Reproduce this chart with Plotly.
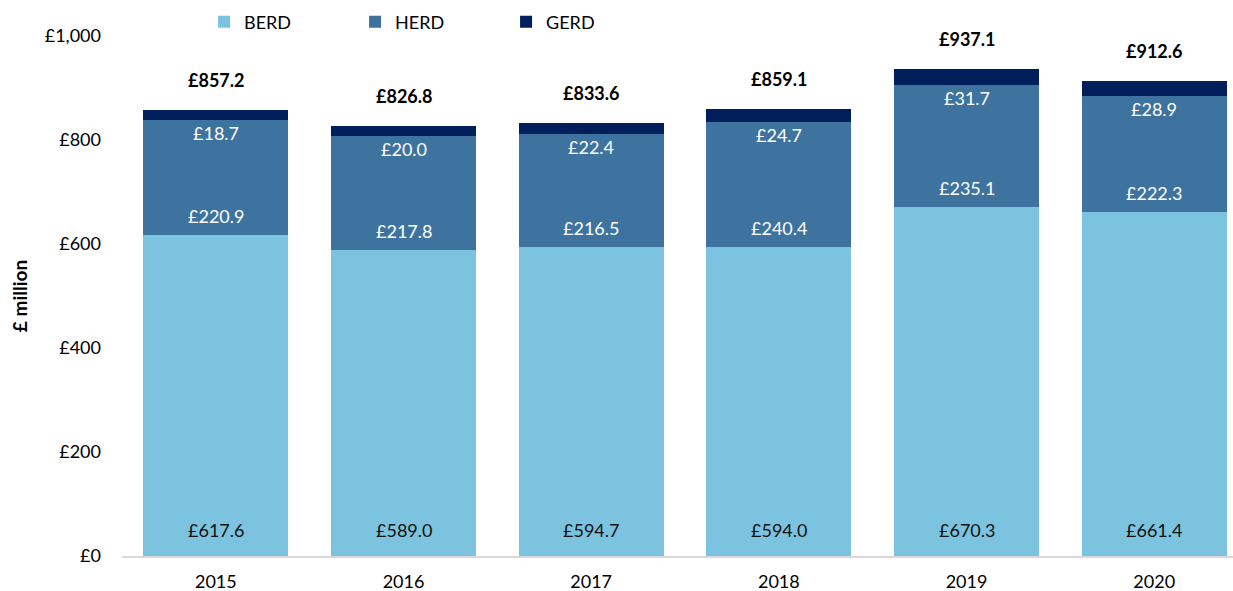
import plotly.graph_objects as go

years = ["2015", "2016", "2017", "2018", "2019", "2020"]
berd = [617.6, 589.0, 594.7, 594.0, 670.3, 661.4]
herd = [220.9, 217.8, 216.5, 240.4, 235.1, 222.3]
gerd = [18.7, 20.0, 22.4, 24.7, 31.7, 28.9]
totals = [857.2, 826.8, 833.6, 859.1, 937.1, 912.6]
y_ticks = [0, 200, 400, 600, 800, 1000]
y_tick_labels = ["£0", "£200", "£400", "£600", "£800", "£1,000"]

FONT = "Lato"
FS = 18
c_berd = "#7BC3DF"
c_herd = "#3E73A0"
c_gerd = "#001F5B"

fig = go.Figure()
fig.add_trace(go.Bar(x=years, y=berd, name="BERD", marker=dict(color=c_berd, line=dict(width=0))))
fig.add_trace(go.Bar(x=years, y=herd, name="HERD", marker=dict(color=c_herd, line=dict(width=0))))
fig.add_trace(go.Bar(x=years, y=gerd, name="GERD", marker=dict(color=c_gerd, line=dict(width=0))))

anns = []
for i, yr in enumerate(years):
    anns.append(dict(x=i, y=0, text=f"£{berd[i]:.1f}", showarrow=False, yanchor="middle",
                     yshift=26, font=dict(family=FONT, size=FS, color="#111111")))
    anns.append(dict(x=i, y=berd[i], text=f"£{herd[i]:.1f}", showarrow=False, yanchor="middle",
                     yshift=19, font=dict(family=FONT, size=FS, color="white")))
    anns.append(dict(x=i, y=berd[i] + herd[i], text=f"£{gerd[i]:.1f}", showarrow=False, yanchor="middle",
                     yshift=-13, font=dict(family=FONT, size=FS, color="white")))
    anns.append(dict(x=i, y=berd[i] + herd[i] + gerd[i], text=f"<b>£{totals[i]:.1f}</b>", showarrow=False,
                     yanchor="middle", yshift=30, font=dict(family=FONT, size=FS, color="black")))

fig.update_layout(
    barmode="stack",
    bargap=0.228,
    width=1233, height=591,
    margin=dict(l=122, r=0, t=36, b=35, autoexpand=False),
    plot_bgcolor="white", paper_bgcolor="white",
    font=dict(family=FONT, size=FS, color="black"),
    showlegend=True,
    legend=dict(orientation="h", xref="container", x=0.1655, xanchor="left",
                yref="container", y=1 - 22 / 591, yanchor="middle",
                font=dict(family=FONT, size=FS, color="black"), entrywidth=106, entrywidthmode="pixels",
                traceorder="normal", itemclick=False, bgcolor="rgba(0,0,0,0)"),
    annotations=anns,
    xaxis=dict(type="category", range=[-0.5, 5.42], showgrid=False, showline=True, linecolor="#D9D9D9",
               linewidth=2, ticks="", ticklabelstandoff=8, tickfont=dict(family=FONT, size=FS),
               fixedrange=True),
    yaxis=dict(range=[0, 1000], tickvals=y_ticks, ticktext=y_tick_labels, showgrid=False, zeroline=False,
               showline=False, ticks="", ticklabelstandoff=20, tickfont=dict(family=FONT, size=FS),
               title=dict(text="<b>£ million</b>", font=dict(family=FONT, size=19), standoff=12)),
)

fig.write_html("out.html", post_script="document.body.style.margin='0';",
               config={"displayModeBar": False})
